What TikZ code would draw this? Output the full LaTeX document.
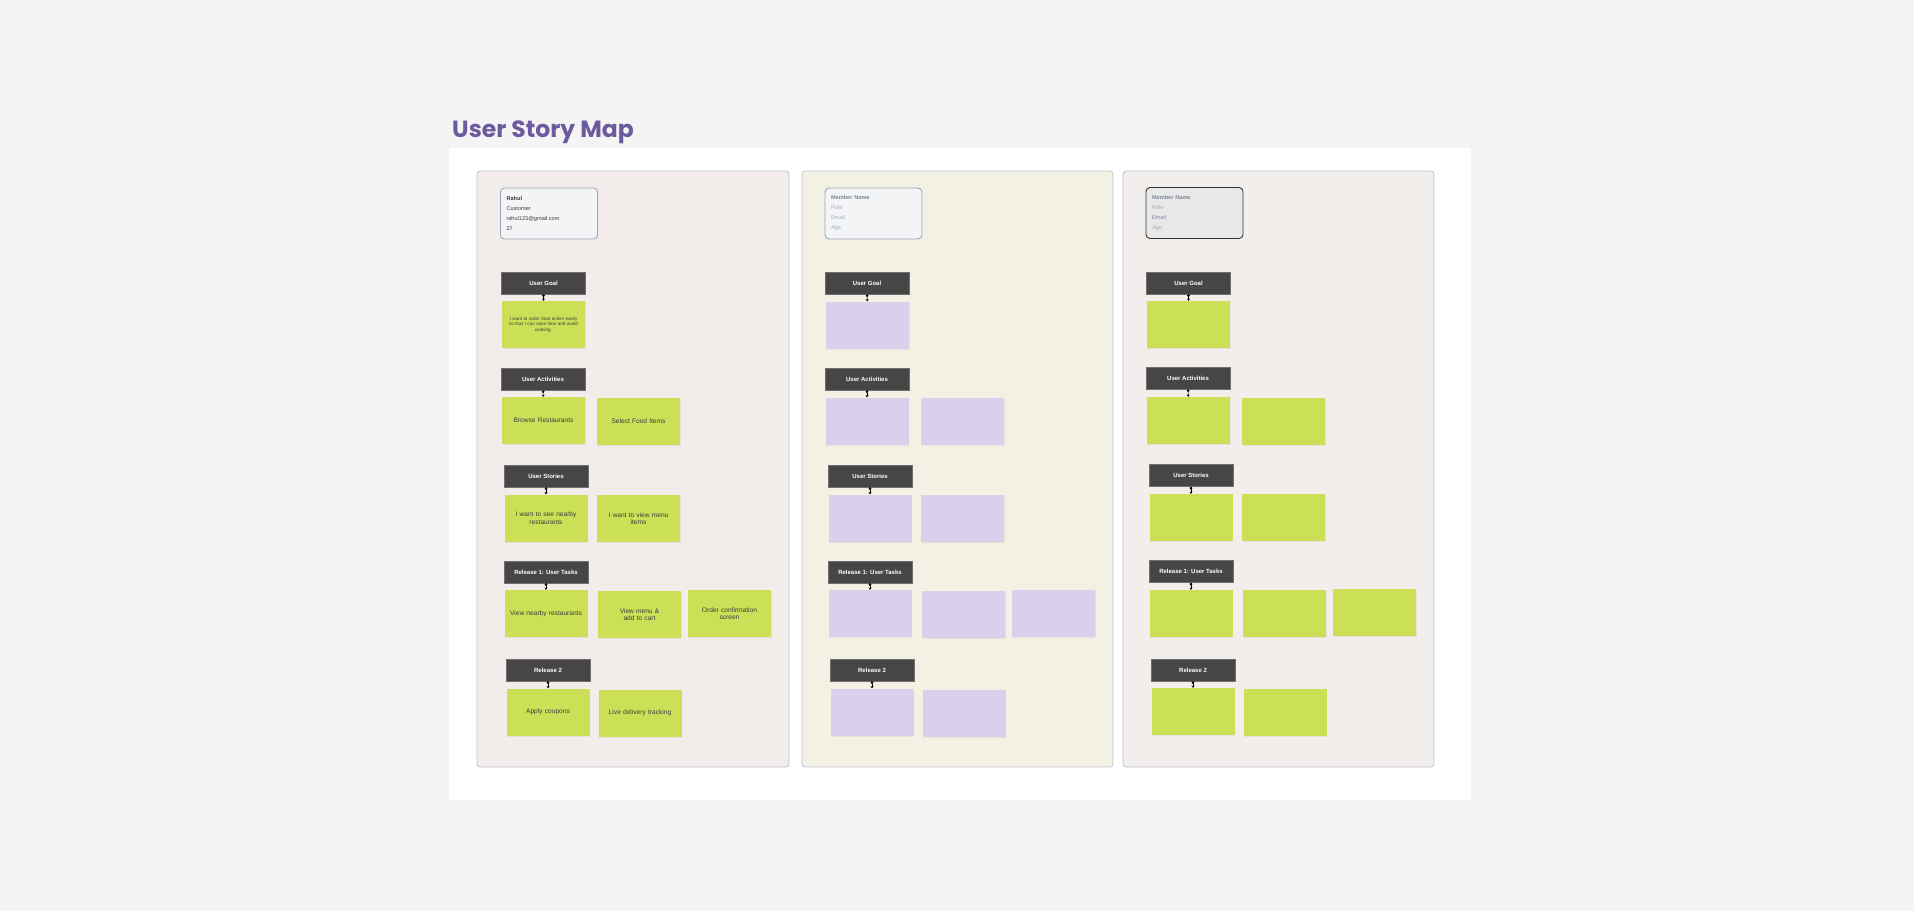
\documentclass[tikz,border=0pt]{standalone}
\usepackage{fontspec}
\setmainfont{Liberation Sans}
\newfontfamily\titlefont{Poppins}
\usepackage{xcolor}
\usetikzlibrary{arrows.meta, shadows}

\definecolor{canvas}{HTML}{F4F4F4}
\definecolor{laneA}{HTML}{F2EDEA}
\definecolor{laneB}{HTML}{F3F1E4}
\definecolor{laneC}{HTML}{F2EEEB}
\definecolor{laneline}{HTML}{BEC3CE}
\definecolor{cardfill}{HTML}{F3F4F6}
\definecolor{cardline}{HTML}{9BA5B8}
\definecolor{cardfillC}{HTML}{E8E8E8}
\definecolor{hdrfill}{HTML}{474545}
\definecolor{hdrline}{HTML}{707070}
\definecolor{gnote}{HTML}{CCE057}
\definecolor{pnote}{HTML}{D9D0EC}
\definecolor{notetext}{HTML}{3D3D3D}
\definecolor{titlecol}{HTML}{6B5A9E}
\definecolor{mname}{HTML}{7C869A}
\definecolor{mfield}{HTML}{A4ABB7}

\begin{document}
\begin{tikzpicture}[
  x=1pt, y=-1pt,
  font=\fontsize{6.6}{7.6}\selectfont,
  every node/.style={align=center},
  lane/.style={draw=laneline, rounded corners=3pt, line width=0.8pt},
  card/.style={rectangle, draw=cardline, fill=cardfill, rounded corners=4pt, line width=0.9pt, minimum width=97pt, minimum height=51pt, text width=85pt, inner sep=6pt, align=left, text=notetext, font=\fontsize{5.6}{10}\selectfont},
  hdr/.style={rectangle, draw=hdrline, fill=hdrfill, line width=0.6pt, minimum width=84pt, minimum height=22pt, inner sep=1pt, text=white, font=\bfseries\fontsize{6}{7}\selectfont},
  gnt/.style={rectangle, fill=gnote, minimum width=83pt, minimum height=47pt, text width=78pt, inner sep=2pt, text=notetext, drop shadow={shadow xshift=0.6pt, shadow yshift=-1pt, opacity=0.12}},
  pnt/.style={gnt, fill=pnote},
  link/.style={{Circle[length=2.6pt]}-{Stealth[length=2.2pt,width=3pt]}, line width=0.6pt}
]
  % page, board and lanes
  \useasboundingbox (0,0) rectangle (1914,911);
  \fill[canvas] (0,0) rectangle (1914,911);
  \fill[white] (449,148) rectangle (1471,800);
  \node[anchor=base west, inner sep=0pt, text=titlecol, font=\titlefont\bfseries\fontsize{23.5}{26}\selectfont] (title) at (452,137) {User Story Map};
  \filldraw[lane, fill=laneA] (477,171) rectangle (789,767);
  \filldraw[lane, fill=laneB] (802,171) rectangle (1113,767);
  \filldraw[lane, fill=laneC] (1123,171) rectangle (1434,767);

  % lane A
  \node[card] (cardA) at (549,213.5) {\textbf{Rahul}\\Customer\\rahul123@gmail.com\\27};
  \node[hdr] (hgA) at (543.5,283) {User Goal};
  \node[gnt, font=\fontsize{4.6}{5.6}\selectfont] (gA) at (543.5,324.5) {I want to order food online easily\\so that I can save time and avoid\\cooking.};
  \node[hdr] (haA) at (543,379) {User Activities};
  \node[gnt] (aA1) at (543.5,420.5) {Browse Restaurants};
  \node[gnt] (aA2) at (638.5,421.5) {Select Food Items};
  \node[hdr] (hsA) at (546,476) {User Stories};
  \node[gnt] (sA1) at (546,518) {I want to see nearby\\restaurants};
  \node[gnt] (sA2) at (638.5,518.5) {I want to view menu\\items};
  \node[hdr] (hrA) at (546,572) {Release 1: User Tasks};
  \node[gnt] (rA1) at (546,613.5) {View nearby restaurants};
  \node[gnt] (rA2) at (639.5,614.5) {View menu \&\\add to cart};
  \node[gnt] (rA3) at (729.5,613.5) {Order confirmation\\screen};
  \node[hdr] (hqA) at (548,670) {Release 2};
  \node[gnt] (qA1) at (548,712) {Apply coupons};
  \node[gnt] (qA2) at (640,713) {Live delivery tracking};

  % lane B
  \node[card] (cardB) at (873.5,213.5) {\textcolor{mname}{\textbf{Member Name}}\\\textcolor{mfield}{Role}\\\textcolor{mfield}{Email}\\\textcolor{mfield}{Age}};
  \node[hdr] (hgB) at (867,283) {User Goal};
  \node[pnt] (gB) at (867.5,325) {};
  \node[hdr] (haB) at (867,379) {User Activities};
  \node[pnt] (aB1) at (867,421) {};
  \node[pnt] (aB2) at (962.5,421.5) {};
  \node[hdr] (hsB) at (870,476) {User Stories};
  \node[pnt] (sB1) at (870,518) {};
  \node[pnt] (sB2) at (962.5,518.5) {};
  \node[hdr] (hrB) at (870,572) {Release 1: User Tasks};
  \node[pnt] (rB1) at (870,613.5) {};
  \node[pnt] (rB2) at (963.5,614) {};
  \node[pnt] (rB3) at (1053.5,613.5) {};
  \node[hdr] (hqB) at (872,670) {Release 2};
  \node[pnt] (qB1) at (872,712) {};
  \node[pnt] (qB2) at (964,713) {};

  % lane C
  \node[card, fill=cardfillC, draw=black!80] (cardC) at (1194.5,213) {\textcolor{mname}{\textbf{Member Name}}\\\textcolor{mfield}{Role}\\\textcolor{mname}{Email}\\\textcolor{mfield}{Age}};
  \node[hdr] (hgC) at (1188.5,283) {User Goal};
  \node[gnt] (gC) at (1188.5,324.5) {};
  \node[hdr] (haC) at (1188,378) {User Activities};
  \node[gnt] (aC1) at (1188.5,420.5) {};
  \node[gnt] (aC2) at (1283.5,421.5) {};
  \node[hdr] (hsC) at (1191,475.5) {User Stories};
  \node[gnt] (sC1) at (1191,517.5) {};
  \node[gnt] (sC2) at (1283.5,517.5) {};
  \node[hdr] (hrC) at (1191,571.5) {Release 1: User Tasks};
  \node[gnt] (rC1) at (1191,613.5) {};
  \node[gnt] (rC2) at (1284.5,613.5) {};
  \node[gnt] (rC3) at (1374.5,612.5) {};
  \node[hdr] (hqC) at (1193,670) {Release 2};
  \node[gnt] (qC1) at (1193,711.5) {};
  \node[gnt] (qC2) at (1285,712.5) {};

  % header links
  \draw[link] (hgA) -- (gA);
  \draw[link] (haA) -- (aA1);
  \draw[link] (hsA) -- (sA1);
  \draw[link] (hrA) -- (rA1);
  \draw[link] (hqA) -- (qA1);
  \draw[link] (hgB) -- (gB);
  \draw[link] (haB) -- (aB1);
  \draw[link] (hsB) -- (sB1);
  \draw[link] (hrB) -- (rB1);
  \draw[link] (hqB) -- (qB1);
  \draw[link] (hgC) -- (gC);
  \draw[link] (haC) -- (aC1);
  \draw[link] (hsC) -- (sC1);
  \draw[link] (hrC) -- (rC1);
  \draw[link] (hqC) -- (qC1);
\end{tikzpicture}
\end{document}
